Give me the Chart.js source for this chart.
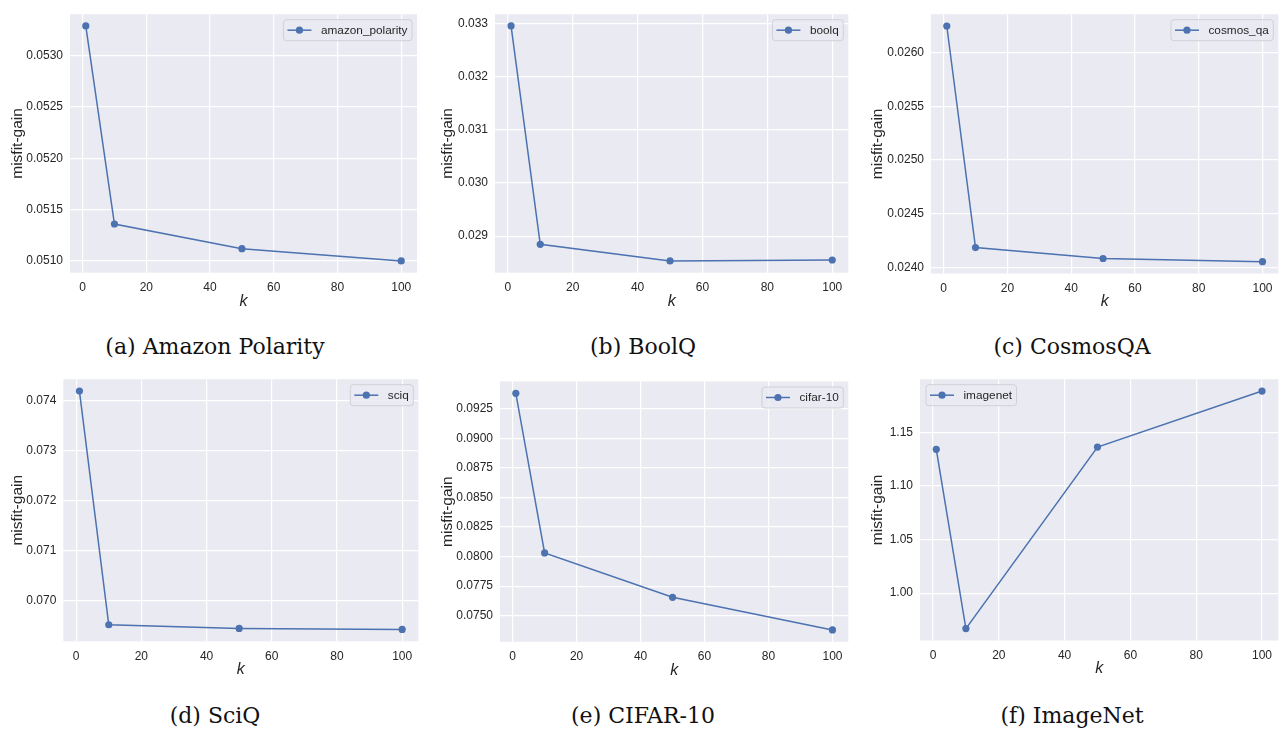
<!DOCTYPE html>
<html>
<head>
<meta charset="utf-8">
<script src="https://cdn.jsdelivr.net/npm/chart.js@4/dist/chart.umd.min.js"></script>
<style>
  body { margin: 0; background: #fff; width: 1282px; height: 731px; position: relative; overflow: hidden; }
  .panel { position: absolute; }
  .caption {
    position: absolute; width: 430px; text-align: center; line-height: 26px;
    font-family: "DejaVu Serif", serif; font-size: 22px; color: #111;
  }
</style>
</head>
<body>
<div class="panel" id="p0"><canvas id="c0"></canvas></div>
<div class="panel" id="p1"><canvas id="c1"></canvas></div>
<div class="panel" id="p2"><canvas id="c2"></canvas></div>
<div class="panel" id="p3"><canvas id="c3"></canvas></div>
<div class="panel" id="p4"><canvas id="c4"></canvas></div>
<div class="panel" id="p5"><canvas id="c5"></canvas></div>

<div class="caption" style="left:0px;top:334px">(a) Amazon Polarity</div>
<div class="caption" style="left:428px;top:334px">(b) BoolQ</div>
<div class="caption" style="left:857px;top:334px">(c) CosmosQA</div>
<div class="caption" style="left:0px;top:703px">(d) SciQ</div>
<div class="caption" style="left:428px;top:703px">(e) CIFAR-10</div>
<div class="caption" style="left:857px;top:703px">(f) ImageNet</div>

<script>
// k values on the x axis
const kValues = [1, 10, 50, 100];
const xTicks = [0, 20, 40, 60, 80, 100];

// misfit-gain per dataset
const amazonPolarity = [0.05329, 0.05136, 0.05112, 0.05100];
const boolq = [0.032957, 0.028846, 0.028533, 0.028551];
const cosmosQa = [0.026247, 0.024185, 0.024083, 0.024053];
const sciq = [0.074199, 0.069508, 0.069435, 0.069415];
const cifar10 = [0.093827, 0.080307, 0.076552, 0.073786];
const imagenet = [1.1342, 0.9669, 1.1363, 1.1886];

const BLUE = '#4C72B0';
const TXT = '#262626';

// legend drawn inside the plot area, the way matplotlib does it
const insideLegend = {
  id: 'insideLegend',
  afterDatasetsDraw(chart, args, opts) {
    const ctx = chart.ctx;
    const area = chart.chartArea;
    const label = chart.data.datasets[0].label;
    ctx.save();
    ctx.font = '11.8px "Liberation Sans", Arial, sans-serif';
    const tw = ctx.measureText(label).width;
    const w = tw + 42, h = 21;
    const x = opts.side === 'left' ? area.left + 6 : area.right - 5 - w;
    const y = area.top + 5.5;
    ctx.beginPath();
    ctx.roundRect(x, y, w, h, 3);
    ctx.fillStyle = 'rgba(234,234,242,0.8)';
    ctx.fill();
    ctx.strokeStyle = '#d0d0d6';
    ctx.lineWidth = 1;
    ctx.stroke();
    const cy = y + h / 2;
    ctx.beginPath();
    ctx.moveTo(x + 4, cy);
    ctx.lineTo(x + 28, cy);
    ctx.strokeStyle = BLUE;
    ctx.lineWidth = 1.5;
    ctx.stroke();
    ctx.beginPath();
    ctx.arc(x + 16, cy, 3.6, 0, Math.PI * 2);
    ctx.fillStyle = BLUE;
    ctx.fill();
    ctx.fillStyle = TXT;
    ctx.textBaseline = 'middle';
    ctx.fillText(label, x + 37.5, cy + 0.5);
    ctx.restore();
  }
};

function panel(idx, name, values, opt) {
  const box = document.getElementById('p' + idx);
  box.style.left = opt.cx + 'px';
  box.style.top = opt.cy + 'px';
  box.style.width = opt.cw + 'px';
  box.style.height = opt.ch + 'px';

  const lo = Math.min(...values), hi = Math.max(...values);
  const pad = (hi - lo) * 0.05;
  const xPad = (kValues[kValues.length - 1] - kValues[0]) * 0.05;
  const xAxisH = 38;

  new Chart(document.getElementById('c' + idx), {
    type: 'line',
    data: {
      datasets: [{
        label: name,
        data: kValues.map((k, i) => ({ x: k, y: values[i] })),
        borderColor: BLUE,
        backgroundColor: BLUE,
        borderWidth: 1.5,
        pointRadius: 3.6,
        pointHoverRadius: 3.6,
        pointBorderWidth: 0,
        tension: 0
      }]
    },
    options: {
      responsive: true,
      maintainAspectRatio: false,
      animation: false,
      events: [],
      layout: {
        padding: {
          left: 0,
          top: opt.top - opt.cy,
          right: opt.cx + opt.cw - opt.right,
          bottom: opt.ch - (opt.bottom - opt.cy) - xAxisH
        }
      },
      plugins: {
        legend: { display: false },
        tooltip: { enabled: false },
        insideLegend: { side: opt.legendSide || 'right' }
      },
      scales: {
        x: {
          type: 'linear',
          min: kValues[0] - xPad,
          max: kValues[kValues.length - 1] + xPad,
          afterFit: s => { s.height = xAxisH; },
          afterBuildTicks: s => { s.ticks = xTicks.map(v => ({ value: v })); },
          border: { display: false },
          grid: { color: '#ffffff', lineWidth: 1.2, drawTicks: false },
          ticks: { color: TXT, padding: 8, font: { family: '"Liberation Sans", Arial, sans-serif', size: 12 } },
          title: {
            display: true, text: 'k', color: TXT, padding: 0,
            font: { family: '"Liberation Sans", Arial, sans-serif', size: 16, style: 'italic' }
          }
        },
        y: {
          type: 'linear',
          min: lo - pad,
          max: hi + pad,
          afterFit: s => { s.width = opt.left - opt.cx; },
          border: { display: false },
          grid: { color: '#ffffff', lineWidth: 1.2, drawTicks: false },
          ticks: {
            color: TXT, padding: 7, stepSize: opt.step, includeBounds: false,
            font: { family: '"Liberation Sans", Arial, sans-serif', size: 12 },
            callback: v => v.toFixed(opt.dec)
          },
          title: {
            display: true, text: 'misfit-gain', color: TXT, padding: { top: 8, bottom: 0 },
            font: { family: '"Liberation Sans", Arial, sans-serif', size: 15.5 }
          }
        }
      }
    },
    plugins: [{
      id: 'bg',
      beforeDraw(chart) {
        const a = chart.chartArea, c = chart.ctx;
        c.save();
        c.fillStyle = '#EAEAF2';
        c.fillRect(a.left, a.top, a.right - a.left, a.bottom - a.top);
        c.restore();
      }
    }, insideLegend]
  });
}

panel(0, 'amazon_polarity', amazonPolarity, { cx: 0, cy: 0, cw: 428, ch: 312, left: 70, top: 13.3, right: 417, bottom: 272.7, step: 0.0005, dec: 4 });
panel(1, 'boolq', boolq, { cx: 430, cy: 0, cw: 428, ch: 312, left: 495, top: 8.7, right: 848.3, bottom: 272.7, step: 0.001, dec: 3 });
panel(2, 'cosmos_qa', cosmosQa, { cx: 860, cy: 0, cw: 422, ch: 312, left: 931, top: 13.2, right: 1278.3, bottom: 273.5, step: 0.0005, dec: 4 });
panel(3, 'sciq', sciq, { cx: 0, cy: 365, cw: 428, ch: 312, left: 63.3, top: 377.3, right: 418.3, bottom: 641.3, step: 0.001, dec: 3 });
panel(4, 'cifar-10', cifar10, { cx: 430, cy: 365, cw: 428, ch: 312, left: 500, top: 381.5, right: 848.3, bottom: 641.8, step: 0.0025, dec: 4 });
panel(5, 'imagenet', imagenet, { cx: 860, cy: 365, cw: 422, ch: 312, left: 920, top: 372.8, right: 1278.3, bottom: 640.5, step: 0.05, dec: 2, legendSide: 'left' });
</script>
</body>
</html>
